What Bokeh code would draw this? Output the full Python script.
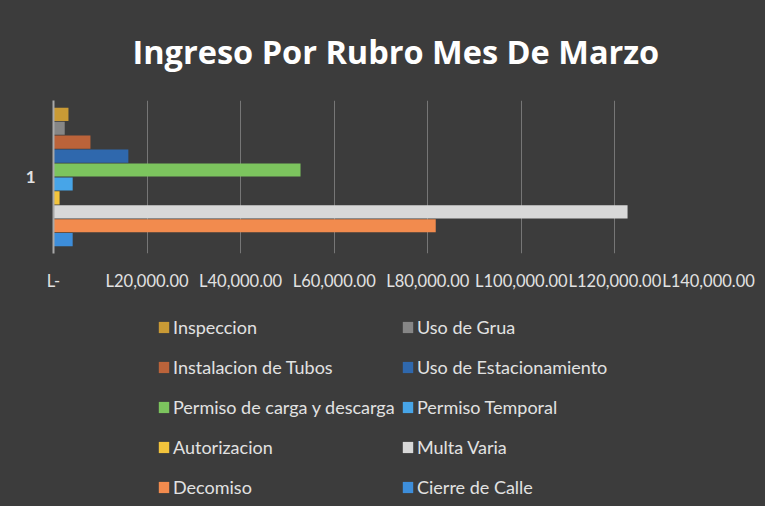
from bokeh.plotting import figure
from bokeh.layouts import column
from bokeh.models import (ColumnDataSource, FactorRange, Range1d, FixedTicker,
                          Legend, LegendItem, Title)
from bokeh.transform import dodge
from bokeh.embed import file_html
from bokeh.resources import INLINE

# ---- data ----
title_text = "Ingreso Por Rubro Mes De Marzo"
categories = ["1"]
series_names = [
    "Inspeccion", "Uso de Grua", "Instalacion de Tubos", "Uso de Estacionamiento",
    "Permiso de carga y descarga", "Permiso Temporal", "Autorizacion",
    "Multa Varia", "Decomiso", "Cierre de Calle",
]
series_values = [3200, 2400, 7900, 16000, 52800, 4100, 1300, 122700, 81700, 4100]
series_colors = [
    "#c99a35", "#868686", "#bb633a", "#2f68ad", "#7cc45e",
    "#47a5e8", "#f3c43c", "#d8d8d8", "#f28b4e", "#3d8edb",
]
tick_values = [0, 20000, 40000, 60000, 80000, 100000, 120000, 140000]
tick_labels = ["L-", "L20,000.00", "L40,000.00", "L60,000.00", "L80,000.00",
               "L100,000.00", "L120,000.00", "L140,000.00"]

BG = "#3c3c3c"
TXT = "#e2e2e2"
W = 765
css = {"background-color": BG}

# ---------------- chart ----------------
p = figure(width=W, height=295,
           y_range=FactorRange(factors=categories),
           x_range=Range1d(tick_values[0], tick_values[-1]),
           output_backend="svg", toolbar_location=None,
           min_border_left=53, min_border_right=57,
           min_border_top=100, min_border_bottom=42)
p.styles = css
p.background_fill_color = BG
p.border_fill_color = None
p.outline_line_color = None

# ---------------- legend area ----------------
q = figure(width=W, height=211,
           y_range=FactorRange(factors=categories),
           x_range=Range1d(tick_values[0], tick_values[-1]),
           x_axis_type=None, y_axis_type=None,
           output_backend="svg", toolbar_location=None,
           min_border_left=0, min_border_right=0,
           min_border_top=0, min_border_bottom=0)
q.styles = css
q.background_fill_color = BG
q.border_fill_color = None
q.outline_line_color = None

n = len(series_names)
pitch = 0.091
bar_h = 0.086
items = []
for i, (name, val, col) in enumerate(zip(series_names, series_values, series_colors)):
    src = ColumnDataSource(dict(cat=categories, val=[val]))
    off = ((n - 1) / 2 - i) * pitch
    p.hbar(y=dodge("cat", off, range=p.y_range), left=0, right="val",
           height=bar_h, source=src, fill_color=col, line_color=None)
    # legend swatch renderer (not drawn, only used by the legend)
    r = q.hbar(y=dodge("cat", off, range=q.y_range), left=0, right="val",
               height=bar_h, source=src, fill_color=col, line_color=None,
               visible=False)
    items.append(LegendItem(label=name, renderers=[r]))

# axes
p.xaxis.ticker = FixedTicker(ticks=tick_values)
p.xaxis.major_label_overrides = {v: t for v, t in zip(tick_values, tick_labels)}
p.xaxis.axis_line_color = None
p.xaxis.major_tick_line_color = None
p.xaxis.minor_tick_line_color = None
p.xaxis.major_tick_out = 0
p.xaxis.major_tick_in = 0
p.xaxis.major_label_standoff = 17
p.xaxis.major_label_text_font = "Lato"
p.xaxis.major_label_text_font_size = "16.5px"
p.xaxis.major_label_text_color = TXT

p.yaxis.axis_line_color = "#a8a8a8"
p.yaxis.axis_line_width = 2
p.yaxis.major_tick_line_color = None
p.yaxis.minor_tick_line_color = None
p.yaxis.major_tick_out = 0
p.yaxis.major_tick_in = 0
p.yaxis.major_label_standoff = 18
p.yaxis.major_label_text_font = "Lato"
p.yaxis.major_label_text_font_size = "17px"
p.yaxis.major_label_text_font_style = "bold"
p.yaxis.major_label_text_color = TXT

p.xgrid.grid_line_color = "#767676"
p.xgrid.grid_line_width = 1
p.ygrid.grid_line_color = None

# title
p.title = Title(text=title_text, align="left", offset=79, standoff=53,
                text_font="Open Sans", text_font_style="bold",
                text_font_size="32.5px", text_color="#ffffff")

# two legend columns (row-major reading order as in the reference);
# positions are relative to the legend area's frame, which is aligned with the chart frame
def make_legend(its, x):
    leg = Legend(items=its, location=(x, 8))
    leg.background_fill_alpha = 0
    leg.border_line_color = None
    leg.padding = 0
    leg.margin = 0
    leg.spacing = 18
    leg.label_height = 18
    leg.glyph_height = 14
    leg.glyph_width = 13
    leg.label_standoff = 3
    leg.label_text_font = "Lato"
    leg.label_text_font_size = "18px"
    leg.label_text_color = TXT
    return leg

q.add_layout(make_legend(items[0::2], 104))
q.add_layout(make_legend(items[1::2], 348))

page = column(p, q, spacing=0, styles=css)
open("out.html", "w").write(file_html(page, INLINE))
